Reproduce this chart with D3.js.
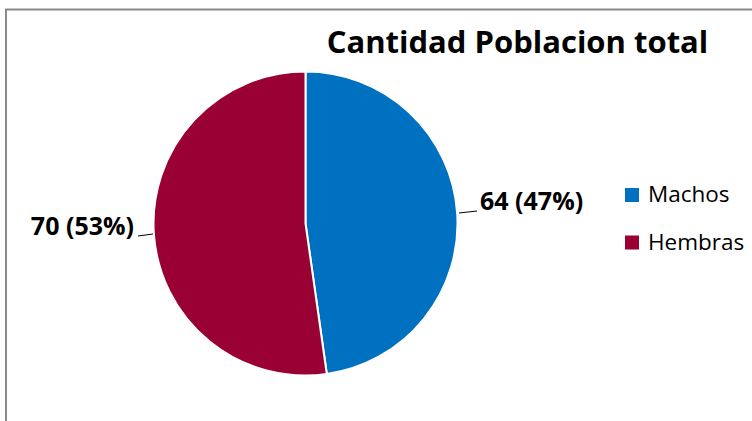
<!DOCTYPE html>
<html>
<head>
<meta charset="utf-8">
<script src="https://cdn.jsdelivr.net/npm/d3@7"></script>
<style>
  html, body { margin: 0; padding: 0; background: #fff; }
  svg { display: block; }
</style>
</head>
<body>
<svg id="chart" width="752" height="421"></svg>
<script>
// Population by sex
const categories = ["Machos", "Hembras"];
const values = [64, 70];
const percentLabels = ["47%", "53%"];
const colors = ["#0070C0", "#990033"];
const title = "Cantidad Poblacion total";

const svg = d3.select("#chart");
const font = "'Open Sans', 'Noto Sans', sans-serif";

// chart frame (right and bottom edges fall outside the view)
svg.append("rect")
  .attr("x", 6).attr("y", 9.5)
  .attr("width", 800).attr("height", 500)
  .attr("fill", "#fff")
  .attr("stroke", "#898989").attr("stroke-width", 2);

svg.append("text")
  .attr("x", 517.5).attr("y", 53)
  .attr("text-anchor", "middle")
  .attr("font-family", font)
  .attr("font-weight", "bold")
  .attr("font-size", 31)
  .attr("fill", "#000")
  .text(title);

const cx = 305.5, cy = 223.5, r = 152;
const pie = d3.pie().sort(null).value(d => d)(values);
const arc = d3.arc().innerRadius(0).outerRadius(r);

const g = svg.append("g").attr("transform", `translate(${cx},${cy})`);
g.selectAll("path").data(pie).join("path")
  .attr("d", arc)
  .attr("fill", (d, i) => colors[i])
  .attr("stroke", "#fff")
  .attr("stroke-width", 2);

// data labels with short leader lines
const labelPos = [
  { line: [[459, 213], [477, 211]], x: 480, y: 210, anchor: "start" },
  { line: [[138, 236], [153, 234]], x: 134, y: 235, anchor: "end" }
];
pie.forEach((d, i) => {
  const p = labelPos[i];
  svg.append("path")
    .attr("d", d3.line()(p.line))
    .attr("fill", "none").attr("stroke", "#000").attr("stroke-width", 1);
  svg.append("text")
    .attr("x", p.x).attr("y", p.y)
    .attr("text-anchor", p.anchor)
    .attr("font-family", font)
    .attr("font-weight", "bold")
    .attr("font-size", 25)
    .attr("fill", "#000")
    .text(`${values[i]} (${percentLabels[i]})`);
});

// legend
const legend = svg.append("g").attr("transform", "translate(625,188)");
categories.forEach((c, i) => {
  const row = legend.append("g").attr("transform", `translate(0,${i * 47.5})`);
  row.append("rect").attr("width", 14).attr("height", 14).attr("fill", colors[i]);
  row.append("text")
    .attr("x", 23).attr("y", 14)
    .attr("font-family", font)
    .attr("font-size", 22.5)
    .attr("fill", "#000")
    .text(c);
});
</script>
</body>
</html>
